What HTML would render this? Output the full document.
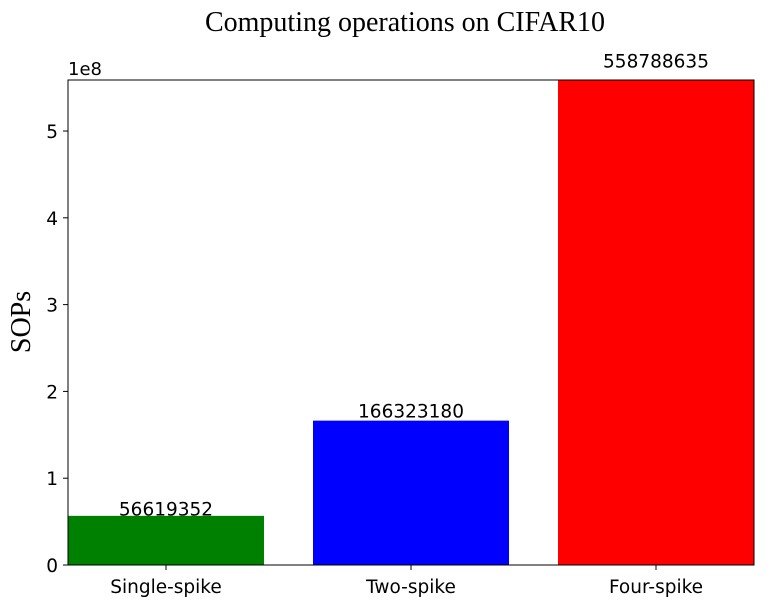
<!DOCTYPE html>
<html><head><meta charset="utf-8"><style>
body{margin:0;background:#fff}
svg{display:block}
</style></head><body>
<svg id="chart" width="780" height="612" xmlns="http://www.w3.org/2000/svg">
<text x="405" y="31" text-anchor="middle" font-family="Liberation Serif, serif" font-size="28">Computing operations on CIFAR10</text>
<text transform="translate(30,322) rotate(-90)" text-anchor="middle" font-family="Liberation Serif, serif" font-size="28">SOPs</text>
<text x="68" y="75" font-family="DejaVu Sans, sans-serif" font-size="18">1e8</text>
<g id="bars"></g><g id="ticks"></g>
<rect x="68" y="80" width="686" height="485" fill="none" stroke="#000" stroke-width="1"/>
</svg>
<script>
const categories=["Single-spike","Two-spike","Four-spike"];
const values=[56619352,166323180,558788635];
const colors=["#008000","#0000ff","#ff0000"];
const yTicks=[0,1,2,3,4,5];
const L=68,R=754,T=80,B=565,yMax=558788635;
const x=i=>L+(i+0.4)*(R-L)/2.8;
const y=v=>B-v/yMax*(B-T);
const NS="http://www.w3.org/2000/svg";
function mk(tag,attrs,parent){const e=document.createElementNS(NS,tag);for(const k in attrs)e.setAttribute(k,attrs[k]);parent.appendChild(e);return e;}
const gb=document.getElementById('bars'),gt=document.getElementById('ticks');
const bw=0.8*(R-L)/2.8;
categories.forEach((c,i)=>{
 const r=mk('rect',{x:x(i)-bw/2,y:y(values[i]),width:bw,height:B-y(values[i]),fill:colors[i]},gb);
 
 
 const t=mk('text',{x:x(i),y:y(values[i]*1.028)+1,'text-anchor':'middle','font-family':'DejaVu Sans, sans-serif','font-size':18.5},gb);
 t.textContent=values[i];
 
 
 const tk=mk('line',{x1:x(i),x2:x(i),y1:B,y2:B+5,stroke:'#000'},gt);
 
 
 const l=mk('text',{x:x(i),y:B+28,'text-anchor':'middle','font-family':'DejaVu Sans, sans-serif','font-size':18.5},gt);
 l.textContent=c;
 
 
});
yTicks.forEach(v=>{
 const yy=y(v*1e8);
 const tk=mk('line',{x1:L-5,x2:L,y1:yy,y2:yy,stroke:'#000'},gt);
 
 
 const l=mk('text',{x:L-10,y:yy+7,'text-anchor':'end','font-family':'DejaVu Sans, sans-serif','font-size':18.5},gt);
 l.textContent=v;
 
 
});
</script>
</body></html>
